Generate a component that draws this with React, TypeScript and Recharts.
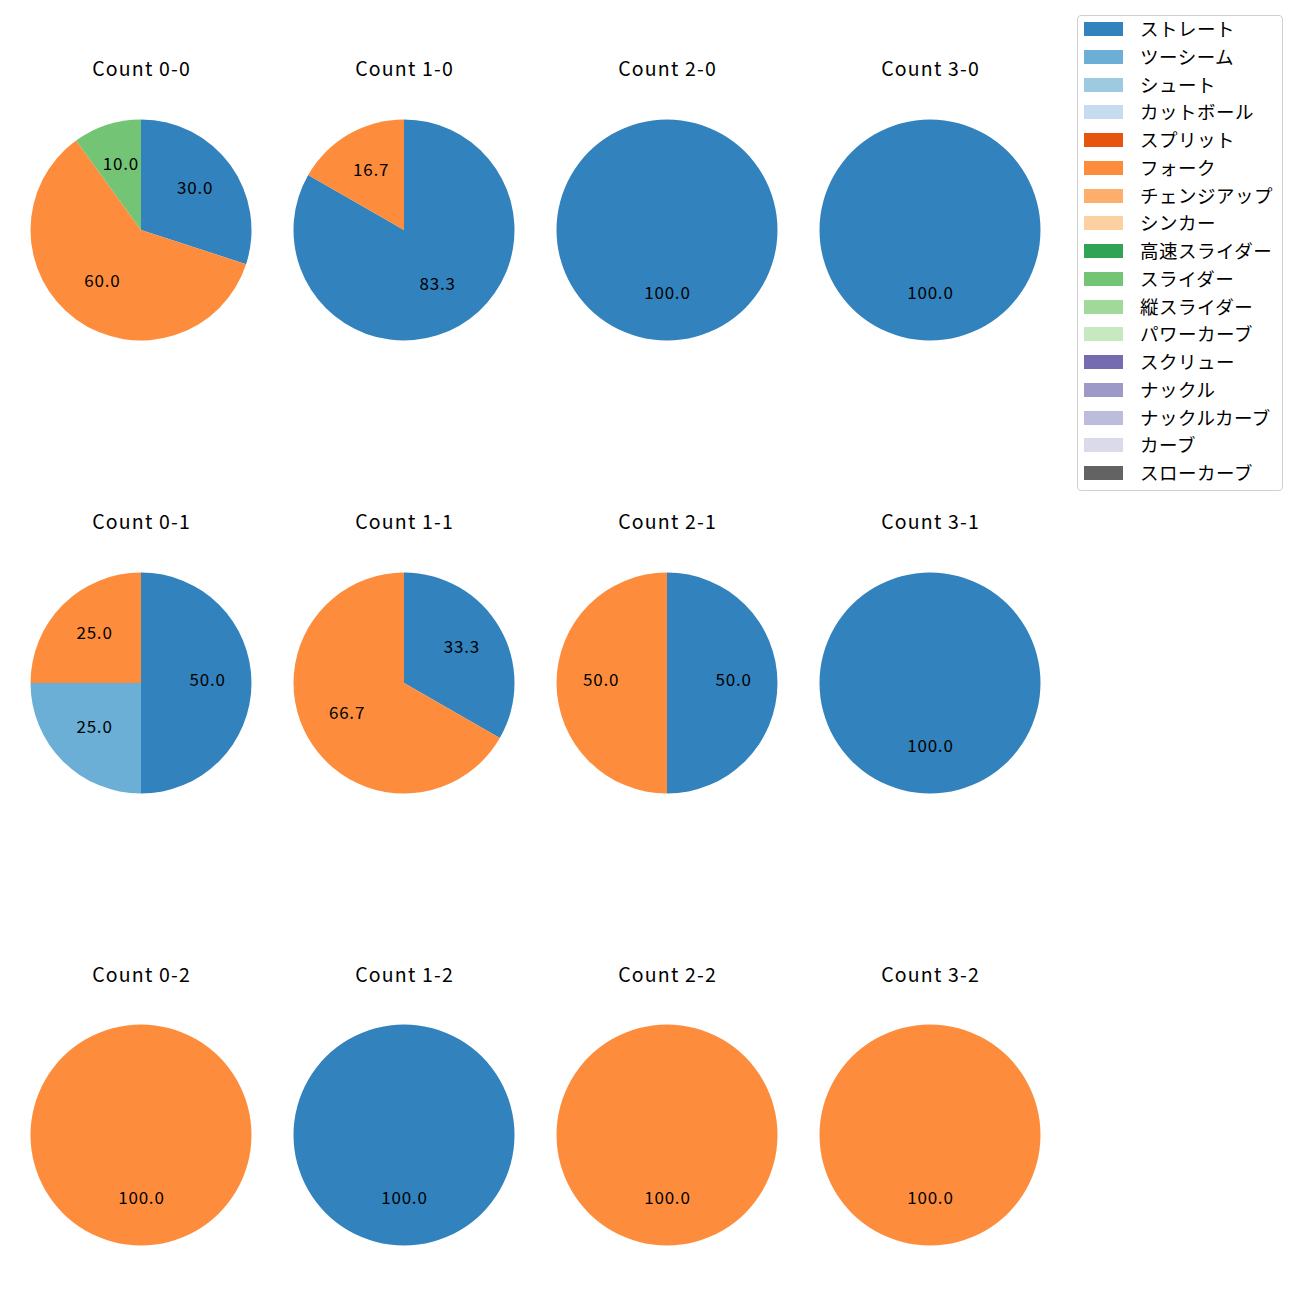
import React from "react";
import { PieChart, Pie, Cell } from "recharts";

const pitchTypes = [
  "ストレート", "ツーシーム", "シュート", "カットボール", "スプリット", "フォーク",
  "チェンジアップ", "シンカー", "高速スライダー", "スライダー", "縦スライダー",
  "パワーカーブ", "スクリュー", "ナックル", "ナックルカーブ", "カーブ", "スローカーブ",
];
const pitchColors = [
  "#3182bd", "#6baed6", "#9ecae1", "#c6dbef", "#e6550d", "#fd8d3c",
  "#fdae6b", "#fdd0a2", "#31a354", "#74c476", "#a1d99b",
  "#c7e9c0", "#756bb1", "#9e9ac8", "#bcbddc", "#dadaeb", "#636363",
];

// counts laid out row by row (strikes), column by column (balls)
const countLabels = ["0-0", "1-0", "2-0", "3-0", "0-1", "1-1", "2-1", "3-1", "0-2", "1-2", "2-2", "3-2"];
// percentage share per pitch type, one value per count above
const straightShare = [30, 83.3, 100, 100, 50, 33.3, 50, 100, 0, 100, 0, 0];
const twoSeamShare = [0, 0, 0, 0, 25, 0, 0, 0, 0, 0, 0, 0];
const forkShare = [60, 16.7, 0, 0, 25, 66.7, 50, 0, 100, 0, 100, 100];
const sliderShare = [10, 0, 0, 0, 0, 0, 0, 0, 0, 0, 0, 0];

const shareByPitch: Record<string, number[]> = {
  "ストレート": straightShare,
  "ツーシーム": twoSeamShare,
  "フォーク": forkShare,
  "スライダー": sliderShare,
};

const FONT = "'Noto Sans CJK JP', 'Noto Sans', sans-serif";
const colX = [141, 404, 667, 930];
const rowY = [229.5, 682.5, 1135];
const R = 110.5;
const BOX = 240;
const RADIAN = Math.PI / 180;

const renderLabel = (props: any) => {
  const { cx, cy, midAngle, outerRadius, percent } = props;
  const r = outerRadius * 0.6;
  const x = cx + r * Math.cos(-midAngle * RADIAN);
  const y = cy + r * Math.sin(-midAngle * RADIAN);
  return (
    <text
      x={x + 0.4}
      y={y - 4.5}
      textAnchor="middle"
      dominantBaseline="central"
      fill="#000"
      fontSize={17}
      letterSpacing={0.8}
      fontFamily={FONT}
    >
      {(percent * 100).toFixed(1)}
    </text>
  );
};

function CountPie({ idx }: { idx: number }) {
  const data = pitchTypes
    .map((name, i) => ({ name, value: shareByPitch[name] ? shareByPitch[name][idx] : 0, color: pitchColors[i] }))
    .filter((d) => d.value > 0);
  const col = idx % 4;
  const row = Math.floor(idx / 4);
  const cx = colX[col];
  const cy = rowY[row];
  return (
    <>
      <div
        style={{
          position: "absolute",
          left: cx - 100 + 0.6,
          width: 200,
          top: cy - 161.5 - 15,
          height: 30,
          lineHeight: "30px",
          textAlign: "center",
          fontFamily: FONT,
          fontSize: 19.5,
          letterSpacing: 1.2,
          color: "#000",
        }}
      >
        {"Count " + countLabels[idx]}
      </div>
      <div style={{ position: "absolute", left: cx - BOX / 2, top: cy - BOX / 2 }}>
        <PieChart width={BOX} height={BOX} margin={{ top: 0, right: 0, bottom: 0, left: 0 }}>
          <Pie
            data={data}
            dataKey="value"
            nameKey="name"
            cx={BOX / 2}
            cy={BOX / 2}
            outerRadius={R}
            startAngle={90}
            endAngle={-270}
            stroke="none"
            label={renderLabel}
            labelLine={false}
            isAnimationActive={false}
          >
            {data.map((d) => (
              <Cell key={d.name} fill={d.color} stroke="none" />
            ))}
          </Pie>
        </PieChart>
      </div>
    </>
  );
}

function Legend() {
  return (
    <div
      style={{
        position: "absolute",
        left: 1077,
        top: 15,
        width: 204,
        height: 474,
        border: "1px solid #d0d0d0",
        borderRadius: 4,
        background: "#fff",
        fontFamily: FONT,
      }}
    >
      {pitchTypes.map((name, i) => (
        <div key={name} style={{ position: "absolute", left: 0, top: 13 + i * 27.75 - 14, height: 28, width: 204 }}>
          <div
            style={{
              position: "absolute",
              left: 6,
              top: 14 - 7,
              width: 39,
              height: 14,
              background: pitchColors[i],
            }}
          />
          <div
            style={{
              position: "absolute",
              left: 62,
              top: -1,
              height: 28,
              lineHeight: "28px",
              fontSize: 18.5,
              letterSpacing: 0.5,
              color: "#000",
              whiteSpace: "nowrap",
            }}
          >
            {name}
          </div>
        </div>
      ))}
    </div>
  );
}

export default function App() {
  return (
    <div style={{ position: "absolute", left: 0, top: 0, width: 1300, height: 1300, background: "#fff" }}>
      {countLabels.map((_, i) => (
        <CountPie key={i} idx={i} />
      ))}
      <Legend />
    </div>
  );
}
